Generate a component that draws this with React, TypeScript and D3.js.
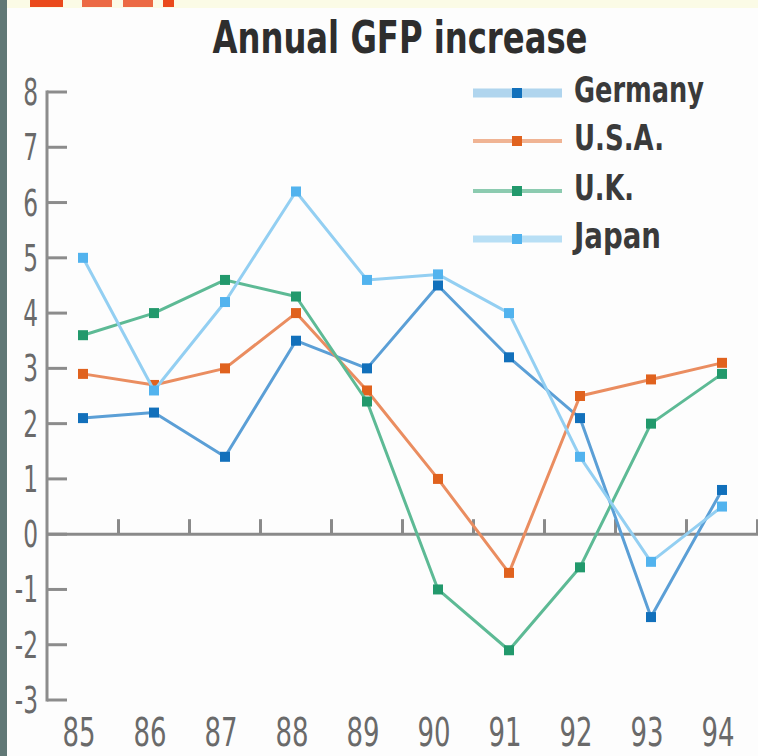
import React from "react";
import * as d3 from "d3";

const years: string[] = ["85", "86", "87", "88", "89", "90", "91", "92", "93", "94"];
const germany: number[] = [2.1, 2.2, 1.4, 3.5, 3.0, 4.5, 3.2, 2.1, -1.5, 0.8];
const usa: number[] = [2.9, 2.7, 3.0, 4.0, 2.6, 1.0, -0.7, 2.5, 2.8, 3.1];
const uk: number[] = [3.6, 4.0, 4.6, 4.3, 2.4, -1.0, -2.1, -0.6, 2.0, 2.9];
const japan: number[] = [5.0, 2.6, 4.2, 6.2, 4.6, 4.7, 4.0, 1.4, -0.5, 0.5];
const yTicks: number[] = [8, 7, 6, 5, 4, 3, 2, 1, 0, -1, -2, -3];
const seriesNames: string[] = ["Germany", "U.S.A.", "U.K.", "Japan"];
const title = "Annual GFP increase";

const W = 758;
const H = 756;

const styles = [
  { line: "#5b9fd6", marker: "#1270bb", legendLine: "#b0d5ee", legendWidth: 9, textW: 130 },
  { line: "#ea8d60", marker: "#e0621e", legendLine: "#f0b494", legendWidth: 4, textW: 90 },
  { line: "#5dba95", marker: "#22996c", legendLine: "#8ccbb0", legendWidth: 4, textW: 60 },
  { line: "#93cff2", marker: "#52b3ee", legendLine: "#b8dff5", legendWidth: 7, textW: 87 },
];

const FONT = "'Liberation Sans Narrow', 'Arial Narrow', 'DejaVu Sans Condensed', sans-serif";

export default function App() {
  const x = d3.scalePoint<string>().domain(years).range([83, 722]);
  const y = d3.scaleLinear().domain([-3, 8]).range([700, 92]);
  const step = x.step();
  const allSeries = [germany, usa, uk, japan];
  const line = d3
    .line<number>()
    .x((_, i) => x(years[i]) as number)
    .y((d) => y(d));

  const boundaries = years.map((yr) => (x(yr) as number) + step / 2);
  const legendY = [93, 141, 191, 239];

  return (
    <svg
      width={W}
      height={H}
      style={{ position: "absolute", left: 0, top: 0, background: "#fdfdfd" }}
    >
      <rect x={0} y={0} width={W} height={H} fill="#fdfdfd" />
      {/* top strip */}
      <rect x={0} y={0} width={W} height={8} fill="#fbfbe6" />
      <rect x={30} y={0} width={33} height={7} fill="#ea4a1c" />
      <rect x={82} y={0} width={30} height={7} fill="#ec6a44" />
      <rect x={123} y={0} width={30} height={7} fill="#ec6a44" />
      <rect x={163} y={0} width={11} height={7} fill="#ea4a1c" />
      {/* left dark strip */}
      <rect x={0} y={0} width={7} height={H} fill="#617876" />

      {/* title */}
      <text
        x={400}
        y={53}
        textAnchor="middle"
        fontFamily={FONT}
        fontWeight="bold"
        fontSize={45}
        fill="#2e2e2e"
        textLength={375}
        lengthAdjust="spacingAndGlyphs"
      >
        {title}
      </text>

      {/* y axis */}
      <line x1={47} x2={47} y1={y(8) - 1.5} y2={y(-3) + 1.5} stroke="#8c8c8c" strokeWidth={3} />
      {yTicks.map((t) => (
        <g key={t}>
          <line x1={47} x2={67} y1={y(t)} y2={y(t)} stroke="#8c8c8c" strokeWidth={3} />
          <text
            transform={`translate(38,${y(t) + 13}) scale(0.7,1)`}
            textAnchor="end"
            fontFamily={FONT}
            fontSize={37}
            fill="#6a6a6a"
          >
            {t < 0 ? "-" + Math.abs(t) : String(t)}
          </text>
        </g>
      ))}

      {/* zero line + category ticks */}
      <line x1={47} x2={W} y1={y(0)} y2={y(0)} stroke="#8a8a8a" strokeWidth={3} />
      {boundaries.map((b, i) => (
        <line key={i} x1={b} x2={b} y1={y(0)} y2={y(0) - 15} stroke="#8a8a8a" strokeWidth={3} />
      ))}

      {/* x labels */}
      {years.map((yr) => (
        <text
          key={yr}
          transform={`translate(${(x(yr) as number) - 4},746) scale(0.74,1)`}
          textAnchor="middle"
          fontFamily={FONT}
          fontSize={39}
          fill="#6a6a6a"
        >
          {yr}
        </text>
      ))}

      {/* series */}
      {allSeries.map((s, si) => (
        <g key={si}>
          <path d={line(s) as string} fill="none" stroke={styles[si].line} strokeWidth={3} strokeLinejoin="round" />
          {s.map((v, i) => (
            <rect
              key={i}
              x={(x(years[i]) as number) - 5}
              y={y(v) - 5}
              width={10}
              height={10}
              fill={styles[si].marker}
            />
          ))}
        </g>
      ))}

      {/* legend */}
      {seriesNames.map((name, i) => (
        <g key={name}>
          <line
            x1={473}
            x2={562}
            y1={legendY[i]}
            y2={legendY[i]}
            stroke={styles[i].legendLine}
            strokeWidth={styles[i].legendWidth}
          />
          <rect x={512} y={legendY[i] - 5} width={10} height={10} fill={styles[i].marker} />
          <text
            x={574}
            y={legendY[i] + 9}
            fontFamily={FONT}
            fontWeight="bold"
            fontSize={35}
            fill="#3a3a3a"
            textLength={styles[i].textW}
            lengthAdjust="spacingAndGlyphs"
          >
            {name}
          </text>
        </g>
      ))}
    </svg>
  );
}
